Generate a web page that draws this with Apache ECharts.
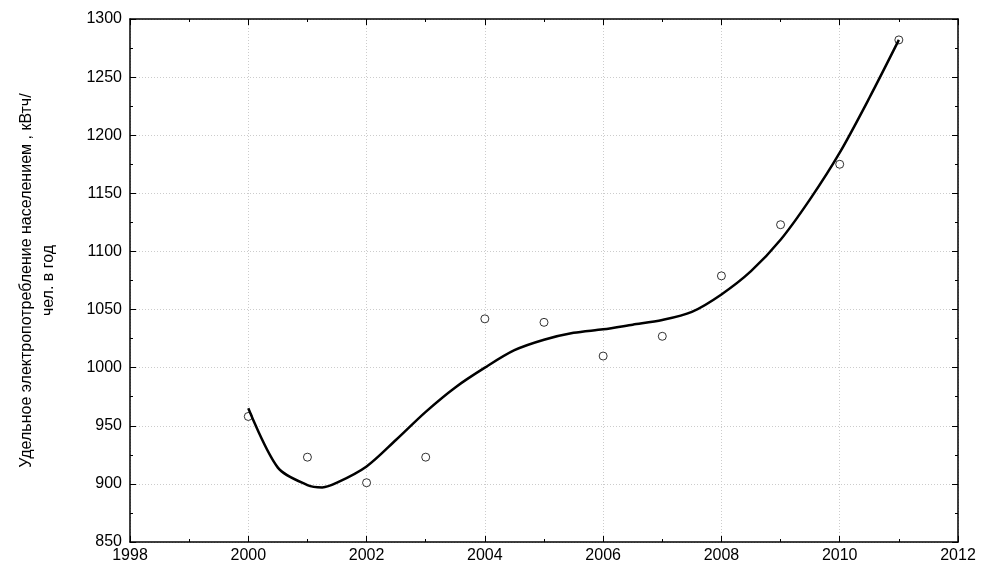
<!DOCTYPE html>
<html lang="ru">
<head>
<meta charset="UTF-8">
<title>Удельное электропотребление</title>
<script src="https://cdn.jsdelivr.net/npm/echarts@6/dist/echarts.min.js"></script>
</head>
<body style="margin:0;background:#fff">
<div id="main" style="width:992px;height:578px"></div>
<script>
// наблюдаемые значения
var years = [2000, 2001, 2002, 2003, 2004, 2005, 2006, 2007, 2008, 2009, 2010, 2011];
var values = [958, 923, 901, 923, 1042, 1039, 1010, 1027, 1079, 1123, 1175, 1282];
// сглаживающая кривая
var fitX = [2000, 2000.5, 2001, 2001.25, 2001.5, 2002, 2002.5, 2003, 2003.5, 2004, 2004.5, 2005, 2005.5,
            2006, 2006.5, 2007, 2007.5, 2008, 2008.5, 2009, 2009.5, 2010, 2010.5, 2011];
var fitY = [965, 914, 899, 897, 901, 915, 938, 962, 983, 1000, 1015, 1024, 1030,
            1033, 1037, 1041, 1048, 1063, 1083, 1110, 1145, 1185, 1232, 1282];

var pts = years.map(function (y, i) { return [y, values[i]]; });
var fit = fitX.map(function (x, i) { return [x, fitY[i]]; });

var font = 'Arial, "Liberation Sans", sans-serif';
var plain = function (v) { return String(v); };
var axisBase = {
    axisLine: {onZero: false, lineStyle: {color: '#000', width: 1.5}},
    axisTick: {inside: true, length: 6, lineStyle: {color: '#000'}},
    minorTick: {show: true, splitNumber: 2, length: 3, lineStyle: {color: '#000'}},
    splitLine: {show: false}
};
var chart = echarts.init(document.getElementById('main'));
chart.setOption({
    animation: false,
    grid: {left: 130, right: 34, top: 19, bottom: 36},
    xAxis: [
        Object.assign({}, axisBase, {type: 'value', min: 1998, max: 2012, interval: 2,
            axisLabel: {color: '#000', fontSize: 16, fontFamily: font, margin: 6, formatter: plain},
            splitLine: {show: true, lineStyle: {color: '#ccc', type: [1, 2]}}}),
        Object.assign({}, axisBase, {type: 'value', position: 'top', min: 1998, max: 2012, interval: 2,
            axisLabel: {show: false}})
    ],
    yAxis: [
        Object.assign({}, axisBase, {type: 'value', min: 850, max: 1300, interval: 50,
            axisLabel: {color: '#000', fontSize: 16, fontFamily: font, margin: 8, formatter: plain},
            splitLine: {show: true, lineStyle: {color: '#ccc', type: [1, 2]}},
            name: 'Удельное электропотребление населением , кВтч/\nчел. в год',
            nameLocation: 'middle', nameGap: 70, nameRotate: 90,
            nameTextStyle: {color: '#000', fontSize: 16, fontFamily: font, lineHeight: 22}}),
        Object.assign({}, axisBase, {type: 'value', position: 'right', min: 850, max: 1300, interval: 50,
            axisLabel: {show: false}})
    ],
    series: [
        {type: 'line', data: fit, smooth: 0.3, showSymbol: false,
         lineStyle: {color: '#000', width: 2.5}},
        {type: 'scatter', data: pts, symbol: 'circle', symbolSize: 8,
         itemStyle: {color: '#fff', borderColor: '#000', borderWidth: 1}}
    ]
});
</script>
</body>
</html>
